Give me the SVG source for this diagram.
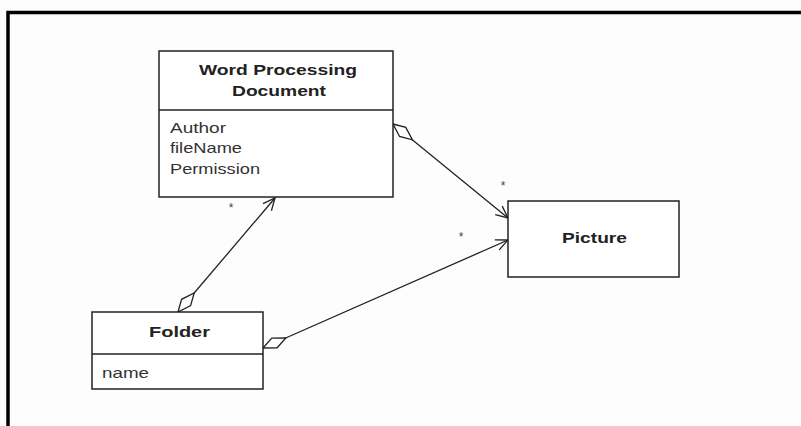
<svg xmlns="http://www.w3.org/2000/svg" width="801" height="426" viewBox="0 0 801 426">
<style>
.box{fill:#fff;stroke:#222;stroke-width:1.5}
.t{font-family:"Liberation Sans",Arial,sans-serif;font-size:15.5px;font-weight:bold;fill:#222;text-anchor:middle}
.a{font-family:"Liberation Sans",Arial,sans-serif;font-size:15px;fill:#333}
.m{font-family:"Liberation Sans",Arial,sans-serif;font-size:12px;fill:#444;text-anchor:middle}
.c{fill:none;stroke:#222;stroke-width:1.3}
</style>
<defs>
<marker id="dia" markerUnits="userSpaceOnUse" markerWidth="30" markerHeight="14" refX="0" refY="7" orient="auto" overflow="visible">
<path d="M0,7 L12,1.5 L25,7 L13,12.5 Z" fill="#fff" stroke="#222" stroke-width="1.3"/>
</marker>
<marker id="arr" markerUnits="userSpaceOnUse" markerWidth="14" markerHeight="14" refX="13" refY="7" orient="auto" overflow="visible">
<path d="M1,1.5 L13,7 L1,12.5" fill="none" stroke="#222" stroke-width="1.3"/>
</marker>
</defs>
<rect width="801" height="426" fill="#fdfdfd"/>
<path d="M8,426 V12.5 H801" fill="none" stroke="#000" stroke-width="3.5"/>
<g id="connectors">
<path class="c" d="M178,312 L275,198" marker-start="url(#dia)" marker-end="url(#arr)"/>
<path class="c" d="M393,124 L508,218" marker-start="url(#dia)" marker-end="url(#arr)"/>
<path class="c" d="M263,348 L508,240" marker-start="url(#dia)" marker-end="url(#arr)"/>
<text class="m" x="231" y="212">*</text>
<text class="m" x="503" y="190">*</text>
<text class="m" x="461" y="241">*</text>
</g>
<g id="word-processing-document">
<rect class="box" x="159" y="51" width="234" height="146"/>
<line x1="159" y1="110" x2="393" y2="110" stroke="#222" stroke-width="1.5"/>
<text class="t" x="278" y="75" textLength="158" lengthAdjust="spacingAndGlyphs">Word Processing</text>
<text class="t" x="279" y="96" textLength="94" lengthAdjust="spacingAndGlyphs">Document</text>
<text class="a" x="170" y="133" textLength="56" lengthAdjust="spacingAndGlyphs">Author</text>
<text class="a" x="170" y="153" textLength="72" lengthAdjust="spacingAndGlyphs">fileName</text>
<text class="a" x="170" y="174" textLength="90" lengthAdjust="spacingAndGlyphs">Permission</text>
</g>
<g id="picture">
<rect class="box" x="508" y="201" width="171" height="76"/>
<text class="t" x="594.5" y="243" textLength="65" lengthAdjust="spacingAndGlyphs">Picture</text>
</g>
<g id="folder">
<rect class="box" x="92" y="312" width="171" height="77"/>
<line x1="92" y1="354" x2="263" y2="354" stroke="#222" stroke-width="1.5"/>
<text class="t" x="179.5" y="337" textLength="61" lengthAdjust="spacingAndGlyphs">Folder</text>
<text class="a" x="102" y="378" textLength="47" lengthAdjust="spacingAndGlyphs">name</text>
</g>
</svg>
